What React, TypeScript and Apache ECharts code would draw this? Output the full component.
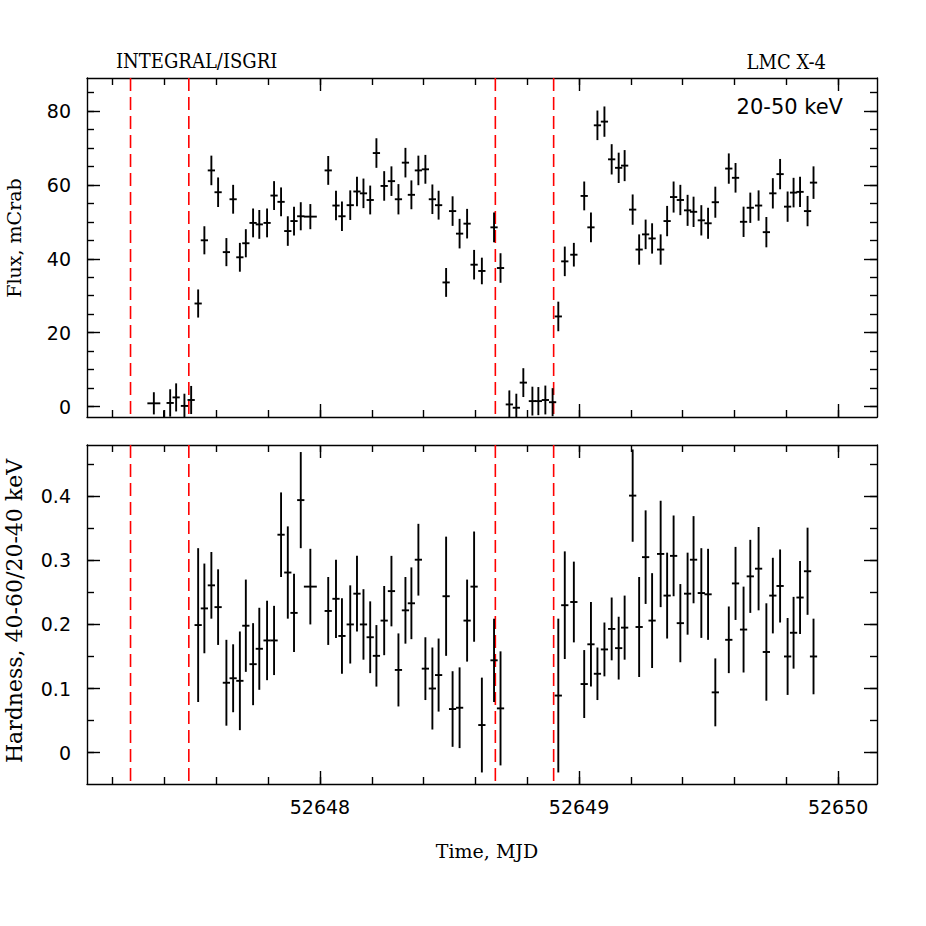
import React, { useEffect, useRef } from "react";
import * as echarts from "echarts";

// ---- Data ----
const times = [
  52647.359, 52647.398, 52647.422, 52647.445, 52647.477, 52647.503, 52647.530, 52647.554, 52647.581, 52647.607,
  52647.639, 52647.665, 52647.691, 52647.714, 52647.742, 52647.766, 52647.796, 52647.823, 52647.850, 52647.876,
  52647.900, 52647.926, 52647.963, 52648.032, 52648.062, 52648.085, 52648.117, 52648.143, 52648.168, 52648.194,
  52648.218, 52648.248, 52648.276, 52648.303, 52648.330, 52648.353, 52648.380, 52648.407, 52648.434, 52648.458,
  52648.487, 52648.512, 52648.539, 52648.568, 52648.595, 52648.625, 52648.672, 52648.697, 52648.731, 52648.758,
  52648.785, 52648.820, 52648.843, 52648.870, 52648.898, 52648.920, 52648.945, 52648.980, 52649.020, 52649.046,
  52649.071, 52649.098, 52649.126, 52649.153, 52649.176, 52649.207, 52649.232, 52649.257, 52649.282, 52649.315,
  52649.340, 52649.365, 52649.391, 52649.419, 52649.442, 52649.472, 52649.498, 52649.526, 52649.578, 52649.604,
  52649.635, 52649.661, 52649.693, 52649.723, 52649.748, 52649.776, 52649.805, 52649.828, 52649.853, 52649.882,
  52649.905,
];

const flux = [
  0.9, -4.5, 1.0, 2.5, 0.2, 1.8, 27.9, 45.0, 63.9, 58.0,
  41.8, 56.1, 40.4, 44.2, 49.7, 49.3, 49.7, 57.1, 55.4, 47.5,
  50.2, 51.5, 51.4, 63.9, 54.4, 51.5, 54.5, 58.2, 57.7, 55.9,
  68.6, 59.7, 61.0, 56.1, 66.0, 57.3, 63.9, 64.2, 56.1, 54.5,
  33.6, 52.9, 46.8, 49.5, 38.4, 36.7, 48.5, 37.5, 0.6, -0.3,
  6.5, 1.5, 1.5, 1.8, 1.2, 24.4, 39.3, 41.1, 57.0, 48.5,
  76.1, 77.1, 66.9, 64.6, 65.2, 53.3, 42.5, 46.6, 45.5, 42.5,
  50.2, 56.7, 55.9, 53.1, 52.7, 50.4, 49.6, 55.3, 64.4, 61.9,
  50.0, 53.8, 54.4, 47.2, 57.7, 62.9, 54.1, 57.9, 58.1, 52.9,
  60.6,
];

const fluxErr = [
  3.0, 3.5, 3.7, 3.8, 3.3, 3.8, 3.8, 3.8, 4.0, 4.0,
  3.8, 3.9, 3.9, 3.8, 3.9, 3.9, 3.9, 3.9, 3.9, 4.0,
  3.9, 3.8, 3.4, 3.9, 4.0, 4.0, 4.0, 4.0, 4.0, 3.9,
  4.0, 4.0, 4.0, 4.1, 4.0, 3.9, 4.0, 3.9, 4.0, 3.9,
  3.9, 4.0, 4.0, 4.0, 4.0, 3.6, 4.0, 4.0, 3.8, 3.8,
  3.9, 3.9, 3.8, 3.9, 3.8, 4.0, 4.0, 3.2, 3.9, 4.0,
  4.0, 4.1, 4.1, 4.1, 4.2, 4.1, 4.1, 4.0, 4.1, 4.1,
  4.1, 4.2, 4.1, 4.2, 4.1, 4.1, 4.2, 4.2, 4.1, 4.0,
  4.1, 4.1, 4.1, 4.1, 4.1, 4.1, 4.1, 4.0, 4.1, 4.1,
  4.4,
];

// hardness: null for eclipse bins (no measurement)
const hardness = [
  null, null, null, null, null, null, 0.199, 0.225, 0.261, 0.227,
  0.109, 0.116, 0.112, 0.198, 0.138, 0.162, 0.175, 0.175, 0.340, 0.281,
  0.218, 0.394, 0.259, 0.221, 0.240, 0.182, 0.200, 0.248, 0.200, 0.180,
  0.151, 0.206, 0.252, 0.129, 0.222, 0.233, 0.301, 0.131, 0.100, 0.121,
  0.244, 0.068, 0.070, 0.206, 0.259, 0.043, 0.144, 0.069, null, null,
  null, null, null, null, null, 0.089, 0.230, 0.235, 0.107, 0.169,
  0.123, 0.161, 0.193, 0.163, 0.195, 0.401, 0.196, 0.305, 0.206, 0.310,
  0.245, 0.307, 0.202, 0.248, 0.301, 0.249, 0.247, 0.094, 0.176, 0.264,
  0.192, 0.275, 0.287, 0.157, 0.245, 0.260, 0.150, 0.187, 0.242, 0.283,
  0.150,
];

const hardErr = [
  null, null, null, null, null, null, 0.120, 0.070, 0.052, 0.059,
  0.067, 0.053, 0.077, 0.072, 0.064, 0.064, 0.062, 0.054, 0.066, 0.072,
  0.061, 0.075, 0.059, 0.053, 0.061, 0.059, 0.061, 0.059, 0.055, 0.056,
  0.048, 0.054, 0.055, 0.057, 0.052, 0.056, 0.056, 0.049, 0.064, 0.057,
  0.093, 0.059, 0.063, 0.064, 0.086, 0.074, 0.065, 0.089, null, null,
  null, null, null, null, null, 0.120, 0.084, 0.063, 0.053, 0.066,
  0.041, 0.042, 0.049, 0.049, 0.050, 0.072, 0.078, 0.073, 0.074, 0.083,
  0.067, 0.063, 0.061, 0.064, 0.068, 0.070, 0.071, 0.053, 0.052, 0.057,
  0.067, 0.057, 0.065, 0.076, 0.059, 0.057, 0.060, 0.056, 0.057, 0.068,
  0.059,
];

const wideBins = [0, 22]; // bins with longer time extent
const eclipseEdges = [52647.269, 52647.494, 52648.677, 52648.902];

const xMajorTicks = [52648, 52649, 52650];
const xMinorTicks = [
  52647.2, 52647.4, 52647.6, 52647.8, 52648.0, 52648.2, 52648.4, 52648.6, 52648.8,
  52649.0, 52649.2, 52649.4, 52649.6, 52649.8, 52650.0,
];
const fluxMajorTicks = [0, 20, 40, 60, 80];
const fluxMinorTicks = [0, 5, 10, 15, 20, 25, 30, 35, 40, 45, 50, 55, 60, 65, 70, 75, 80, 85];
const hardMajorTicks = [0, 0.1, 0.2, 0.3, 0.4];
const hardMinorTicks = [0, 0.05, 0.1, 0.15, 0.2, 0.25, 0.3, 0.35, 0.4, 0.45];

const X_MIN = 52647.101;
const X_MAX = 52650.15;
const FLUX_MIN = -2.8;
const FLUX_MAX = 88.9;
const HARD_MIN = -0.049;
const HARD_MAX = 0.48;

const BLACK = "#000000";
const RED = "#ff0000";
const NUM_FONT = "DejaVu Sans";
const TXT_FONT = "'DejaVu Serif'";
const TITLE_FONT = "'DejaVu Serif Condensed', 'DejaVu Serif'";

function mkX(gi: number, pos: string, ticks: number[], len: number, line: boolean, labels?: number[]) {
  return {
    type: "value",
    gridIndex: gi,
    position: pos,
    min: X_MIN,
    max: X_MAX,
    axisLine: { show: line, onZero: false, lineStyle: { color: BLACK, width: 1.4 } },
    axisTick: { show: true, inside: true, length: len, customValues: ticks, lineStyle: { color: BLACK, width: 1.4 } },
    axisLabel: labels
      ? { show: true, customValues: labels, margin: 13, color: BLACK, fontFamily: NUM_FONT, fontSize: 19, formatter: (v: number) => String(Math.round(v)) }
      : { show: false },
    splitLine: { show: false },
  };
}

function mkY(gi: number, pos: string, min: number, max: number, ticks: number[], len: number, line: boolean, labels?: number[]) {
  return {
    type: "value",
    gridIndex: gi,
    position: pos,
    min,
    max,
    axisLine: { show: line, onZero: false, lineStyle: { color: BLACK, width: 1.4 } },
    axisTick: { show: true, inside: true, length: len, customValues: ticks, lineStyle: { color: BLACK, width: 1.4 } },
    axisLabel: labels
      ? { show: true, customValues: labels, margin: 16, color: BLACK, fontFamily: NUM_FONT, fontSize: 19, formatter: (v: number) => String(Math.round(v * 100) / 100) }
      : { show: false },
    splitLine: { show: false },
  };
}

function errRender(params: any, api: any) {
  const cs = params.coordSys;
  const t = api.value(0), v = api.value(1), e = api.value(2), w = api.value(3);
  const c = api.coord([t, v]);
  const top = api.coord([t, v + e]);
  const bot = api.coord([t, v - e]);
  const l = api.coord([t - w, v]);
  const r = api.coord([t + w, v]);
  const yTop = Math.max(top[1], cs.y);
  const yBot = Math.min(bot[1], cs.y + cs.height);
  const children: any[] = [];
  const st = { stroke: BLACK, lineWidth: 1.9 };
  if (yTop < yBot) {
    children.push({ type: "line", shape: { x1: c[0], y1: yTop, x2: c[0], y2: yBot }, style: st });
  }
  if (c[1] >= cs.y && c[1] <= cs.y + cs.height) {
    children.push({ type: "line", shape: { x1: l[0], y1: c[1], x2: r[0], y2: c[1] }, style: st });
  }
  return { type: "group", children };
}

function edgeRender(params: any, api: any) {
  const cs = params.coordSys;
  const t = api.value(0);
  const p = api.coord([t, api.value(1)]);
  return {
    type: "line",
    shape: { x1: p[0], y1: cs.y, x2: p[0], y2: cs.y + cs.height },
    style: { stroke: RED, lineWidth: 1.6, lineDash: [13, 6] },
  };
}

export default function App() {
  const ref = useRef<HTMLDivElement>(null);
  useEffect(() => {
    if (!ref.current) return;
    const chart = echarts.init(ref.current, null, { renderer: "svg" });

    const fluxData = times.map((t, i) => [t, flux[i], fluxErr[i], wideBins.includes(i) ? 0.025 : 0.014]);
    const hardData = times
      .map((t, i) => (hardness[i] === null ? null : [t, hardness[i], hardErr[i], wideBins.includes(i) ? 0.025 : 0.014]))
      .filter((d) => d !== null);

    const option: any = {
      animation: false,
      backgroundColor: "#ffffff",
      grid: [
        { left: 87, top: 78, width: 790, height: 339 },
        { left: 87, top: 445, width: 790, height: 339 },
      ],
      xAxis: [
        mkX(0, "bottom", xMinorTicks, 7, true),
        mkX(0, "bottom", xMajorTicks, 13, false),
        mkX(0, "top", xMinorTicks, 7, true),
        mkX(0, "top", xMajorTicks, 13, false),
        mkX(1, "bottom", xMinorTicks, 7, true),
        mkX(1, "bottom", xMajorTicks, 13, false, xMajorTicks),
        mkX(1, "top", xMinorTicks, 7, true),
        mkX(1, "top", xMajorTicks, 13, false),
      ],
      yAxis: [
        mkY(0, "left", FLUX_MIN, FLUX_MAX, fluxMinorTicks, 7, true),
        mkY(0, "left", FLUX_MIN, FLUX_MAX, fluxMajorTicks, 13, false, fluxMajorTicks),
        mkY(0, "right", FLUX_MIN, FLUX_MAX, fluxMinorTicks, 7, true),
        mkY(0, "right", FLUX_MIN, FLUX_MAX, fluxMajorTicks, 13, false),
        mkY(1, "left", HARD_MIN, HARD_MAX, hardMinorTicks, 7, true),
        mkY(1, "left", HARD_MIN, HARD_MAX, hardMajorTicks, 13, false, hardMajorTicks),
        mkY(1, "right", HARD_MIN, HARD_MAX, hardMinorTicks, 7, true),
        mkY(1, "right", HARD_MIN, HARD_MAX, hardMajorTicks, 13, false),
      ],
      series: [
        {
          type: "custom", name: "edges-top", xAxisIndex: 0, yAxisIndex: 0,
          data: eclipseEdges.map((t) => [t, 0]), renderItem: edgeRender, silent: true, z: 1,
        },
        {
          type: "custom", name: "edges-bottom", xAxisIndex: 4, yAxisIndex: 4,
          data: eclipseEdges.map((t) => [t, 0]), renderItem: edgeRender, silent: true, z: 1,
        },
        {
          type: "custom", name: "Flux", xAxisIndex: 0, yAxisIndex: 0,
          data: fluxData, renderItem: errRender, silent: true, z: 3,
        },
        {
          type: "custom", name: "Hardness", xAxisIndex: 4, yAxisIndex: 4,
          data: hardData, renderItem: errRender, silent: true, z: 3,
        },
      ],
      graphic: [
        { type: "text", x: 116, y: 61, style: { text: "INTEGRAL/ISGRI", font: `20px ${TITLE_FONT}`, fill: BLACK, textAlign: "left", textVerticalAlign: "middle" } },
        { type: "text", x: 826, y: 62, style: { text: "LMC X-4", font: `20px ${TITLE_FONT}`, fill: BLACK, textAlign: "right", textVerticalAlign: "middle" } },
        { type: "text", x: 843, y: 107, style: { text: "20-50 keV", font: `21px '${NUM_FONT}'`, fill: BLACK, textAlign: "right", textVerticalAlign: "middle" } },
        { type: "text", x: 487, y: 851, style: { text: "Time, MJD", font: `19px ${TXT_FONT}`, fill: BLACK, textAlign: "center", textVerticalAlign: "middle" } },
        { type: "text", x: 14, y: 238, rotation: Math.PI / 2, style: { text: "Flux, mCrab", font: `19px ${TXT_FONT}`, fill: BLACK, textAlign: "center", textVerticalAlign: "middle" } },
        { type: "text", x: 14, y: 611, rotation: Math.PI / 2, style: { text: "Hardness, 40-60/20-40 keV", font: `22px ${TXT_FONT}`, fill: BLACK, textAlign: "center", textVerticalAlign: "middle" } },
      ],
    };
    chart.setOption(option);
    return () => chart.dispose();
  }, []);

  return (
    <div
      ref={ref}
      style={{ position: "absolute", left: 0, top: 0, width: 926, height: 926, background: "#ffffff" }}
    />
  );
}
